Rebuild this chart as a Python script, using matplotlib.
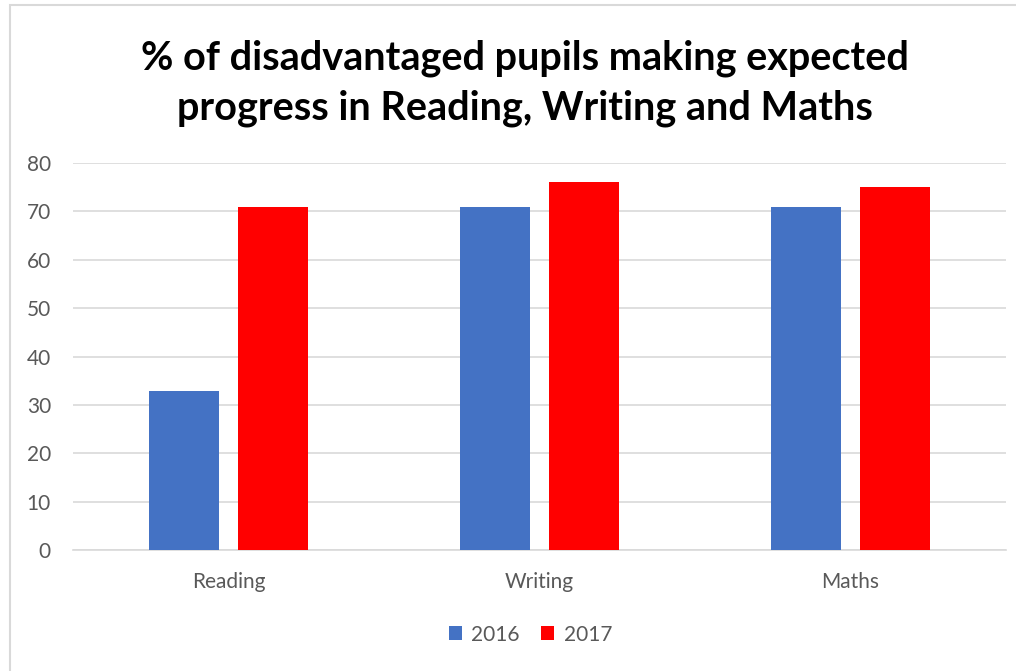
import matplotlib.pyplot as plt
import matplotlib.patches as mpatches
import numpy as np

categories = ["Reading", "Writing", "Maths"]
years = ["2016", "2017"]
values_2016 = [33, 71, 71]
values_2017 = [71, 76, 75]
colors = ["#4472C4", "#FF0000"]

plt.rcParams["font.family"] = ["Lato", "DejaVu Sans"]


def main():
    fig = plt.figure(figsize=(10.16, 6.71), dpi=100)
    ax = fig.add_axes([0.072, 0.180, 0.918, 0.577])

    #outer chart border, light grey like the spreadsheet frame
    fig.patches.append(mpatches.Rectangle((10 / 1016, -0.05), 1.1, 1 - 5 / 671 + 0.05,
                                          transform=fig.transFigure, fill=False,
                                          edgecolor="#D9D9D9", linewidth=1.5))

    x = np.arange(len(categories))
    width = 0.225
    ax.bar(x - 0.1425, values_2016, width, color=colors[0], label=years[0], zorder=3)
    ax.bar(x + 0.1425, values_2017, width, color=colors[1], label=years[1], zorder=3)

    ax.set_xlim(-0.5, 2.5)
    ax.set_ylim(0, 80)
    ax.set_yticks(np.arange(0, 81, 10))
    ax.set_xticks(x)
    ax.set_xticklabels(categories)
    ax.yaxis.grid(True, color="#D9D9D9", linewidth=1.2, zorder=0)
    ax.tick_params(axis="both", length=0, labelsize=15, labelcolor="#595959")
    ax.tick_params(axis="x", pad=16)
    ax.tick_params(axis="y", pad=16)
    for s in ["top", "right", "left"]:
        ax.spines[s].set_visible(False)
    ax.spines["bottom"].set_color("#D9D9D9")
    ax.spines["bottom"].set_linewidth(1.2)

    fig.text(0.517, 0.876, "% of disadvantaged pupils making expected\nprogress in Reading, Writing and Maths",
             ha="center", va="center", fontsize=28.5, fontweight="bold", linespacing=1.42)

    leg = fig.legend(loc="center", bbox_to_anchor=(0.522, 0.054), ncol=2, frameon=False,
                     fontsize=15, handlelength=0.65, handleheight=0.65, columnspacing=1.0,
                     handletextpad=0.45)
    for t in leg.get_texts():
        t.set_color("#595959")

    plt.savefig("out.png", dpi=100)


if __name__ == "__main__":
    main()
